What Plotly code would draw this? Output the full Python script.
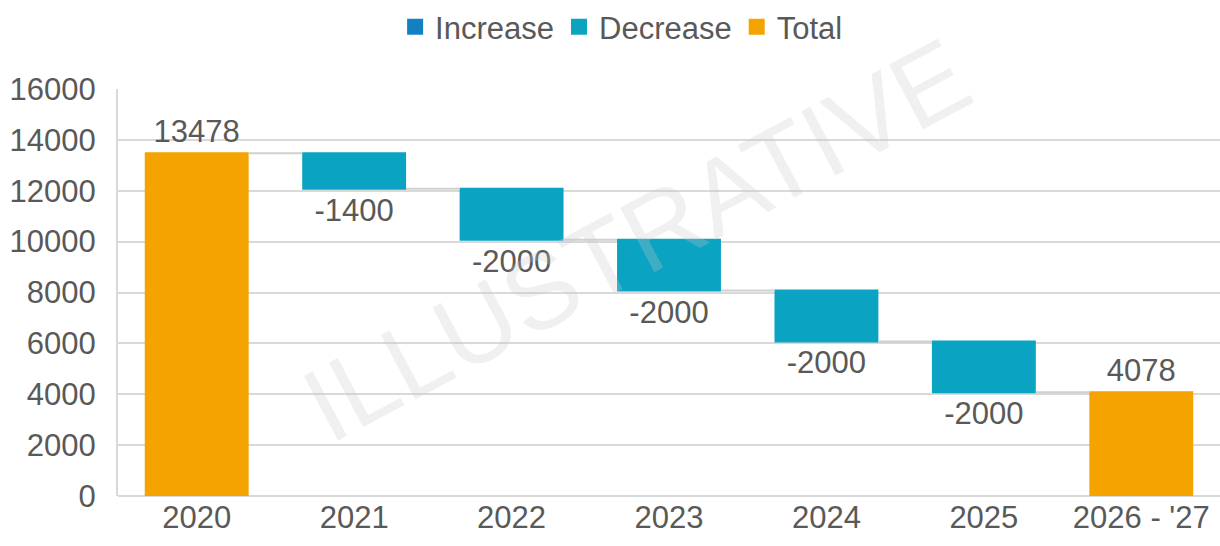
import plotly.graph_objects as go

# Waterfall data
categories = ["2020", "2021", "2022", "2023", "2024", "2025", "2026 - '27"]
values = [13478, -1400, -2000, -2000, -2000, -2000, 0]
measures = ["absolute", "relative", "relative", "relative", "relative", "relative", "total"]
labels = ["13478", "-1400", "-2000", "-2000", "-2000", "-2000", "4078"]

y_ticks = [0, 2000, 4000, 6000, 8000, 10000, 12000, 14000, 16000]

INC = "#1480c4"
DEC = "#0aa3c2"
TOT = "#f5a300"
TXT = "#595959"
FONT = "Liberation Sans, Arial, sans-serif"
FS = 31

fig = go.Figure()

fig.add_trace(go.Waterfall(
    x=categories,
    y=values,
    measure=measures,
    text=labels,
    textposition="outside",
    textfont=dict(size=FS, color=TXT, family=FONT),
    increasing=dict(marker=dict(color=INC)),
    decreasing=dict(marker=dict(color=DEC)),
    totals=dict(marker=dict(color=TOT)),
    connector=dict(line=dict(color="#d0d0d0", width=2)),
    showlegend=False,
    cliponaxis=False,
))

# Legend entries for the three bar kinds (square swatches)
for name, col in [("Increase", INC), ("Decrease", DEC), ("Total", TOT)]:
    fig.add_trace(go.Scatter(x=[None], y=[None], name=name, mode="markers",
                             marker=dict(symbol="square", size=18, color=col),
                             showlegend=True))

fig.add_annotation(
    text="ILLUSTRATIVE", x=0.47, y=0.63, xref="paper", yref="paper",
    showarrow=False, textangle=-28,
    font=dict(size=106, color="rgba(200,200,200,0.28)", family=FONT),
)

fig.update_layout(
    width=1220, height=546,
    margin=dict(l=118, r=0, t=89, b=50, autoexpand=False),
    paper_bgcolor="white", plot_bgcolor="white",
    waterfallgap=0.34,
    font=dict(family=FONT, color=TXT, size=FS),
    legend=dict(orientation="h", x=0.457, xanchor="center",
                y=1.152, yanchor="middle", itemsizing="trace",
                font=dict(size=FS, color=TXT), itemwidth=30, traceorder="normal"),
    xaxis=dict(showgrid=False, showline=False, ticks="", tickangle=0,
               tickfont=dict(size=FS, color=TXT)),
    yaxis=dict(range=[0, 16000], tickvals=y_ticks, tickformat="d", showgrid=True,
               gridcolor="#d9d9d9", gridwidth=2, zeroline=True, zerolinecolor="#d9d9d9",
               zerolinewidth=2, showline=True, linecolor="#d9d9d9", linewidth=2,
               tickfont=dict(size=FS, color=TXT), ticks="", ticklabelstandoff=14),
)

fig.write_html("out.html")
